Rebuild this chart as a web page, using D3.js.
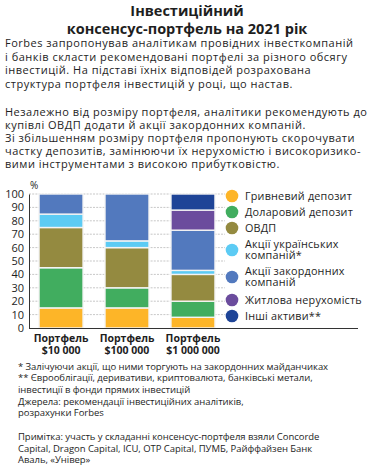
<!DOCTYPE html>
<html><head><meta charset="utf-8">
<script src="https://cdn.jsdelivr.net/npm/d3@7"></script>
<style>
html,body{margin:0;padding:0;background:#fff;}
svg{display:block;}
text{font-family:"Open Sans",sans-serif;fill:#1e1e1e;}
</style></head>
<body>
<svg id="c" width="374" height="470"></svg>
<script>
const categories = ["Портфель|$10 000", "Портфель|$100 000", "Портфель|$1 000 000"];
const seriesNames = ["Гривневий депозит", "Доларовий депозит", "ОВДП", "Акції українських|компаній*", "Акції закордонних|компаній", "Житлова нерухомість", "Інші активи**"];
const colors = ["#FDB528", "#41AD5F", "#948A40", "#5CCBF4", "#5279BE", "#6B4C9D", "#1E4497"];
const hryvniaDeposit = [15, 15, 8];
const dollarDeposit = [30, 15, 12];
const ovdp = [30, 30, 20];
const ukrStocks = [10, 5, 3];
const foreignStocks = [15, 35, 30];
const realEstate = [0, 0, 15];
const otherAssets = [0, 0, 12];
const yTicks = [0, 10, 20, 30, 40, 50, 60, 70, 80, 90, 100];

const titleLines = ["Інвестиційний", "консенсус-портфель на 2021 рік"];
const introLines = [
 "Forbes запропонував аналітикам провідних інвесткомпаній",
 "і банків скласти рекомендовані портфелі за різного обсягу",
 "інвестицій. На підставі їхніх відповідей розрахована",
 "структура портфеля інвестицій у році, що настав.",
 "",
 "Незалежно від розміру портфеля, аналітики рекомендують до",
 "купівлі ОВДП додати й акції закордонних компаній.",
 "Зі збільшенням розміру портфеля пропонують скорочувати",
 "частку депозитів, замінюючи їх нерухомістю і високоризико-",
 "вими інструментами з високою прибутковістю."
];
const footLines = [
 "* Залічуючи акції, що ними торгують на закордонних майданчиках",
 "** Єврооблігації, деривативи, криптовалюта, банківські метали,",
 "інвестиції в фонди прямих інвестицій",
 "Джерела: рекомендації інвестиційних аналітиків,",
 "розрахунки Forbes",
 "",
 "Примітка: участь у складанні консенсус-портфеля взяли Concorde",
 "Capital, Dragon Capital, ICU, OTP Capital, ПУМБ, Райффайзен Банк",
 "Аваль, «Універ»"
];

const seriesValues = [hryvniaDeposit, dollarDeposit, ovdp, ukrStocks, foreignStocks, realEstate, otherAssets];
const table = categories.map((c, i) => {
  const row = {cat: c};
  seriesNames.forEach((s, j) => row[s] = seriesValues[j][i]);
  return row;
});

const svg = d3.select("#c");

// title
svg.append("g").selectAll("text").data(titleLines).join("text")
  .attr("x", 187).attr("text-anchor", "middle").attr("y", (d, i) => 16 + i * 17.5)
  .style("font-weight", 700).style("font-size", "14.5px").text(d => d);

// intro
svg.append("g").selectAll("text").data(introLines.filter(d => d)).join("text")
  .attr("x", 5).attr("y", (d, i) => i < 4 ? 47 + i * 13.5 : 116 + (i - 4) * 12.9)
  .style("font-size", "11px").style("letter-spacing", "0.5px").text(d => d);

// footer
const fy = [369.5, 381, 392.5, 404.5, 416, 440, 451.5, 463];
svg.append("g").selectAll("text").data(footLines.filter(d => d)).join("text")
  .attr("x", 18).attr("y", (d, i) => fy[i])
  .style("font-size", "9.5px").style("letter-spacing", "-0.05px").text(d => d);

// chart
const y = d3.scaleLinear().domain([0, 100]).range([328, 194]);
const x = d3.scaleBand().domain(categories).range([29, 225]).paddingInner(0.333).paddingOuter(0.152);

const stacked = d3.stack().keys(seriesNames)(table);

// gridlines
svg.append("g").selectAll("line").data(yTicks.filter(d => d > 0)).join("line")
  .attr("x1", 29).attr("x2", 225).attr("y1", d => y(d)).attr("y2", d => y(d))
  .attr("stroke", "#b9b9b9").attr("stroke-width", 0.8).attr("stroke-dasharray", "2,1.2");

// bars
svg.append("g").selectAll("g").data(stacked).join("g")
  .attr("fill", (d, i) => colors[i])
  .selectAll("rect").data(d => d.filter(p => p[1] - p[0] > 0)).join("rect")
  .attr("x", d => x(d.data.cat)).attr("width", x.bandwidth())
  .attr("y", d => y(d[1])).attr("height", d => y(d[0]) - y(d[1]))
  .attr("stroke", "#f4f4f4").attr("stroke-width", 1.4);

// y axis
const yAxis = d3.axisLeft(y).tickValues(yTicks).tickSize(0).tickPadding(5);
const ga = svg.append("g").attr("transform", "translate(29,0)").call(yAxis);
ga.select(".domain").attr("stroke", "#333").attr("stroke-width", 1);
ga.selectAll("text").style("font-size", "11px").style("font-family", "'Open Sans',sans-serif").attr("fill", "#1e1e1e");
svg.append("text").attr("x", 30).attr("y", 189).style("font-size", "10px").text("%");

// x axis line
svg.append("line").attr("x1", 29).attr("x2", 358).attr("y1", 328.5).attr("y2", 328.5)
  .attr("stroke", "#333").attr("stroke-width", 1.2);

// x labels
const xl = svg.append("g").selectAll("text").data(categories).join("text")
  .attr("text-anchor", "middle").style("font-weight", 700).style("font-size", "10.5px");
xl.selectAll("tspan").data(d => d.split("|").map(t => ({t, c: d}))).join("tspan")
  .attr("x", d => x(d.c) + x.bandwidth() / 2).attr("y", (d, i) => 342 + i * 12).text(d => d.t);

// legend
const legY = [196, 212, 228, 250, 277, 300, 316];
const lg = svg.append("g").selectAll("g").data(seriesNames).join("g")
  .attr("transform", (d, i) => `translate(232,${legY[i]})`);
lg.append("circle").attr("r", 6.3).attr("fill", (d, i) => colors[i]);
lg.append("text").style("font-size", "10.8px").style("letter-spacing", "0.2px").each(function (d) {
  const parts = d.split("|");
  d3.select(this).selectAll("tspan").data(parts).join("tspan")
    .attr("x", 13).attr("y", (p, i) => (parts.length === 1 ? 4 : -2 + i * 11)).text(p => p);
});
</script>
</body></html>
